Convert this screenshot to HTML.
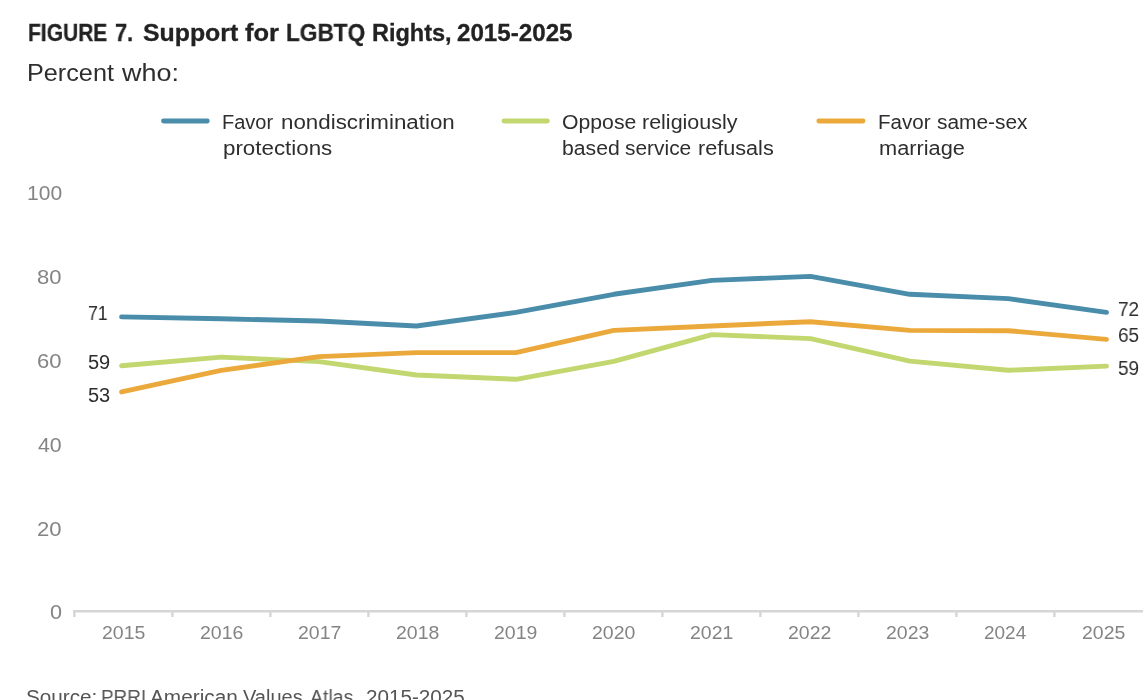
<!DOCTYPE html>
<html>
<head>
<meta charset="utf-8">
<title>Figure 7</title>
<style>
html,body{margin:0;padding:0;background:#fff;}
html{overflow:hidden;}
body{width:1143px;height:700px;overflow:hidden;font-family:"Liberation Sans",sans-serif;}
#wrap{position:relative;width:1143px;height:700px;overflow:hidden;background:#fff;}
.t{position:absolute;white-space:nowrap;line-height:1;margin:0;padding:0;transform-origin:0 0;will-change:transform;}
svg{position:absolute;left:0;top:0;}
</style>
</head>
<body>
<div id="wrap">
<svg width="1143" height="700" viewBox="0 0 1143 700">
  <g stroke="#d5d6d8" fill="none">
    <path d="M73 611.3H1143" stroke-width="2.6"/>
    <path d="M74.4 611V617M172.4 611V617M270.4 611V617M368.4 611V617M466.4 611V617M564.4 611V617M662.4 611V617M760.4 611V617M858.4 611V617M956.4 611V617M1054.4 611V617" stroke-width="2.4"/>
  </g>
  <g stroke-width="4.8" stroke-linecap="round" fill="none">
    <path d="M163.5 121H207.3" stroke="#4a8dab"/>
    <path d="M504 121H547.4" stroke="#c2d76f"/>
    <path d="M818.8 121H863" stroke="#eba93c"/>
  </g>
  <g stroke-width="4.9" stroke-linecap="round" stroke-linejoin="round" fill="none">
    <polyline stroke="#c2d76f" points="121.6,365.7 221.1,357.1 319,361.6 416.5,375 516,379.3 613.8,361.4 712,334.6 810.5,338.6 909.8,361.1 1008.3,370.3 1106.5,366.1"/>
    <polyline stroke="#eba93c" points="121.6,391.9 221.1,370.4 319,356.6 416.5,352.6 516,352.6 613.8,330.4 712,326 810.5,321.7 909.8,330.4 1008.3,330.7 1106.5,339.4"/>
    <polyline stroke="#4a8dab" points="121.6,316.9 221.1,318.8 319,321 416.5,326 516,312.4 613.8,294.3 712,280.4 810.5,276.4 909.8,294.3 1008.3,298.6 1106.5,312.4"/>
  </g>
</svg>
<div class="t" style="-webkit-text-stroke:0.3px #222;left:28.01px;top:22.10px;font-size:23.5px;font-weight:bold;color:#222;transform:scaleX(0.8931)">FIGURE</div>
<div class="t" style="-webkit-text-stroke:0.3px #222;left:114.77px;top:22.10px;font-size:23.5px;font-weight:bold;color:#222;transform:scaleX(0.9294)">7.</div>
<div class="t" style="-webkit-text-stroke:0.3px #222;left:143.44px;top:22.10px;font-size:23.5px;font-weight:bold;color:#222;transform:scaleX(1.0573)">Support</div>
<div class="t" style="-webkit-text-stroke:0.3px #222;left:244.90px;top:22.10px;font-size:23.5px;font-weight:bold;color:#222;transform:scaleX(1.0839)">for</div>
<div class="t" style="-webkit-text-stroke:0.3px #222;left:285.84px;top:22.10px;font-size:23.5px;font-weight:bold;color:#222;transform:scaleX(0.9625)">LGBTQ</div>
<div class="t" style="-webkit-text-stroke:0.3px #222;left:371.70px;top:22.10px;font-size:23.5px;font-weight:bold;color:#222;transform:scaleX(1.0000)">Rights,</div>
<div class="t" style="-webkit-text-stroke:0.3px #222;left:457.07px;top:22.10px;font-size:23.5px;font-weight:bold;color:#222;transform:scaleX(1.0279)">2015-2025</div>
<div class="t" style="left:27.05px;top:62.10px;font-size:23.5px;font-weight:normal;color:#2e2e2e;transform:scaleX(1.0734)">Percent</div>
<div class="t" style="left:122.40px;top:62.10px;font-size:23.5px;font-weight:normal;color:#2e2e2e;transform:scaleX(1.1479)">who:</div>
<div class="t" style="left:222.20px;top:112.00px;font-size:20px;font-weight:normal;color:#2e2e2e;transform:scaleX(1.0000)">Favor</div>
<div class="t" style="left:281.28px;top:112.00px;font-size:20px;font-weight:normal;color:#2e2e2e;transform:scaleX(1.1163)">nondiscrimination</div>
<div class="t" style="left:223.08px;top:138.00px;font-size:20px;font-weight:normal;color:#2e2e2e;transform:scaleX(1.1167)">protections</div>
<div class="t" style="left:561.94px;top:112.00px;font-size:20px;font-weight:normal;color:#2e2e2e;transform:scaleX(1.0603)">Oppose</div>
<div class="t" style="left:642.43px;top:112.00px;font-size:20px;font-weight:normal;color:#2e2e2e;transform:scaleX(1.0739)">religiously</div>
<div class="t" style="left:562.44px;top:138.00px;font-size:20px;font-weight:normal;color:#2e2e2e;transform:scaleX(1.0596)">based</div>
<div class="t" style="left:624.95px;top:138.00px;font-size:20px;font-weight:normal;color:#2e2e2e;transform:scaleX(1.0452)">service</div>
<div class="t" style="left:697.62px;top:138.00px;font-size:20px;font-weight:normal;color:#2e2e2e;transform:scaleX(1.0809)">refusals</div>
<div class="t" style="left:878.14px;top:112.00px;font-size:20px;font-weight:normal;color:#2e2e2e;transform:scaleX(1.0286)">Favor</div>
<div class="t" style="left:936.66px;top:112.00px;font-size:20px;font-weight:normal;color:#2e2e2e;transform:scaleX(1.0447)">same-sex</div>
<div class="t" style="left:879.11px;top:138.00px;font-size:20px;font-weight:normal;color:#2e2e2e;transform:scaleX(1.0883)">marriage</div>
<div class="t" style="left:27.17px;top:183.00px;font-size:20.4px;font-weight:normal;color:#848484;transform:scaleX(1.0312)">100</div>
<div class="t" style="left:37.42px;top:267.30px;font-size:20.4px;font-weight:normal;color:#848484;transform:scaleX(1.0810)">80</div>
<div class="t" style="left:37.42px;top:351.00px;font-size:20.4px;font-weight:normal;color:#848484;transform:scaleX(1.0810)">60</div>
<div class="t" style="left:38.20px;top:434.80px;font-size:20.4px;font-weight:normal;color:#848484;transform:scaleX(1.0455)">40</div>
<div class="t" style="left:37.42px;top:518.50px;font-size:20.4px;font-weight:normal;color:#848484;transform:scaleX(1.0810)">20</div>
<div class="t" style="left:49.54px;top:602.30px;font-size:20.4px;font-weight:normal;color:#848484;transform:scaleX(1.0600)">0</div>
<div class="t" style="left:88.31px;top:302.80px;font-size:20px;font-weight:normal;color:#2e2e2e;transform:scaleX(0.8850)">71</div>
<div class="t" style="left:88.42px;top:352.00px;font-size:20px;font-weight:normal;color:#2e2e2e;transform:scaleX(0.9850)">59</div>
<div class="t" style="left:88.42px;top:385.10px;font-size:20px;font-weight:normal;color:#2e2e2e;transform:scaleX(0.9850)">53</div>
<div class="t" style="left:1118.05px;top:298.90px;font-size:20px;font-weight:normal;color:#2e2e2e;transform:scaleX(0.9500)">72</div>
<div class="t" style="left:1118.05px;top:325.00px;font-size:20px;font-weight:normal;color:#2e2e2e;transform:scaleX(0.9500)">65</div>
<div class="t" style="left:1118.05px;top:357.90px;font-size:20px;font-weight:normal;color:#2e2e2e;transform:scaleX(0.9500)">59</div>
<div class="t" style="left:26.07px;top:687.00px;font-size:20px;font-weight:normal;color:#555;transform:scaleX(1.0348)">Source:</div>
<div class="t" style="left:100.91px;top:687.00px;font-size:20px;font-weight:normal;color:#555;transform:scaleX(0.9455)">PRRI</div>
<div class="t" style="left:150.00px;top:687.00px;font-size:20px;font-weight:normal;color:#555;transform:scaleX(1.0386)">American</div>
<div class="t" style="left:242.80px;top:687.00px;font-size:20px;font-weight:normal;color:#555;transform:scaleX(1.0000)">Values</div>
<div class="t" style="left:309.70px;top:687.00px;font-size:20px;font-weight:normal;color:#555;transform:scaleX(0.9750)">Atlas,</div>
<div class="t" style="left:365.57px;top:687.00px;font-size:20px;font-weight:normal;color:#555;transform:scaleX(1.0330)">2015-2025</div>
<div class="t" style="left:101.95px;top:624.10px;font-size:18.5px;font-weight:normal;color:#848484;transform:scaleX(1.0513)">2015</div>
<div class="t" style="left:199.95px;top:624.10px;font-size:18.5px;font-weight:normal;color:#848484;transform:scaleX(1.0513)">2016</div>
<div class="t" style="left:297.95px;top:624.10px;font-size:18.5px;font-weight:normal;color:#848484;transform:scaleX(1.0513)">2017</div>
<div class="t" style="left:395.95px;top:624.10px;font-size:18.5px;font-weight:normal;color:#848484;transform:scaleX(1.0513)">2018</div>
<div class="t" style="left:493.95px;top:624.10px;font-size:18.5px;font-weight:normal;color:#848484;transform:scaleX(1.0513)">2019</div>
<div class="t" style="left:591.95px;top:624.10px;font-size:18.5px;font-weight:normal;color:#848484;transform:scaleX(1.0513)">2020</div>
<div class="t" style="left:689.95px;top:624.10px;font-size:18.5px;font-weight:normal;color:#848484;transform:scaleX(1.0513)">2021</div>
<div class="t" style="left:787.95px;top:624.10px;font-size:18.5px;font-weight:normal;color:#848484;transform:scaleX(1.0513)">2022</div>
<div class="t" style="left:885.95px;top:624.10px;font-size:18.5px;font-weight:normal;color:#848484;transform:scaleX(1.0513)">2023</div>
<div class="t" style="left:983.98px;top:624.10px;font-size:18.5px;font-weight:normal;color:#848484;transform:scaleX(1.0250)">2024</div>
<div class="t" style="left:1081.95px;top:624.10px;font-size:18.5px;font-weight:normal;color:#848484;transform:scaleX(1.0513)">2025</div>
</div>
</body>
</html>
